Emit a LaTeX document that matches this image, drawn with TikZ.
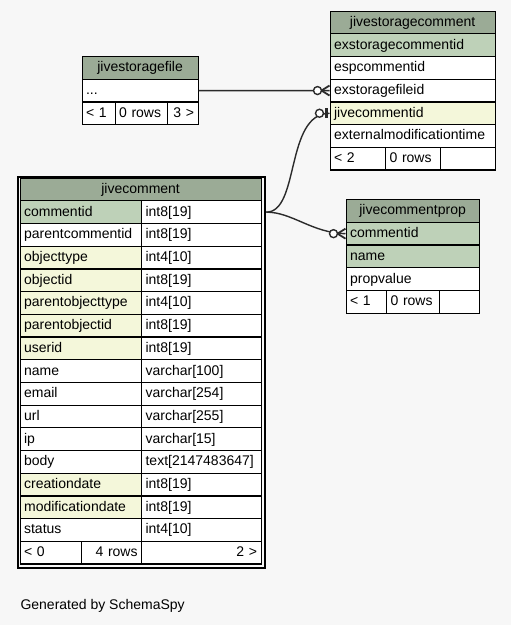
\documentclass[tikz,border=0pt]{standalone}
\usepackage{fontspec}
\setmainfont{Liberation Sans}
\usepackage{tikz}
\usetikzlibrary{calc}
\usepackage{xcolor}
\definecolor{bgcol}{HTML}{F7F7F7}
\definecolor{headcol}{HTML}{9BAB96}
\definecolor{keycol}{HTML}{BED1B8}
\definecolor{idxcol}{HTML}{F4F7DA}
\definecolor{linkcol}{HTML}{2B2B2B}
\tikzset{
  cell/.style={draw, line width=1.2pt, anchor=north west, minimum height=22.7pt,
    inner xsep=4pt, inner ysep=0pt, text height=10.5pt, text depth=2.5pt,
    text width=#1, align=left, fill=white, font=\fontsize{14}{16}\selectfont},
  head/.style={cell=#1, align=center, fill=headcol},
  link/.style={linkcol, line width=1.4pt},
}

\begin{document}
\begin{tikzpicture}[x=1pt, y=-1pt]
  \fill[bgcol] (0,0) rectangle (511,625);
  \useasboundingbox (0,0) rectangle (511,625);

  % jivestoragecomment
  \node[head=157pt] (sc) at (329.5,10.5) {jivestoragecomment};
  \foreach \fld/\clr [count=\i] in {exstoragecommentid/keycol, espcommentid/white,
      exstoragefileid/white, jivecommentid/idxcol, externalmodificationtime/white}
    \node[cell=157pt, fill=\clr] (sc-\i) at (329.5,{10.5+\i*22.7}) {\fld};
  \node[cell=47.5pt] (sc-f1) at (329.5,146.7) {< 2};
  \node[cell=47pt] (sc-f2) at (385,146.7) {0 rows};
  \node[cell=46.5pt] (sc-f3) at (440,146.7) {};

  % jivestoragefile
  \node[head=108pt] (sf) at (81.5,56) {jivestoragefile};
  \node[cell=108pt] (sf-dots) at (81.5,78.7) {...};
  \node[cell=25pt] (sf-f1) at (81.5,101.4) {< 1};
  \node[cell=44pt] (sf-f2) at (114.5,101.4) {0 rows};
  \node[cell=23pt, align=right] (sf-f3) at (166.5,101.4) {3 >};

  % jivecomment
  \node[draw, line width=2.8pt, anchor=north west, inner sep=0pt,
    minimum width=247pt, minimum height=391pt] (jc) at (16.5,175.5) {};
  \node[head=233pt] (jc-head) at (19.5,177.5) {jivecomment};
  \foreach \fld/\typ/\clr [count=\i] in {commentid/{int8[19]}/keycol,
      parentcommentid/{int8[19]}/white, objecttype/{int4[10]}/idxcol,
      objectid/{int8[19]}/idxcol, parentobjecttype/{int4[10]}/idxcol,
      parentobjectid/{int8[19]}/idxcol, userid/{int8[19]}/idxcol,
      name/{varchar[100]}/white, email/{varchar[254]}/white,
      url/{varchar[255]}/white, ip/{varchar[15]}/white,
      body/{text[2147483647]}/white, creationdate/{int8[19]}/idxcol,
      modificationdate/{int8[19]}/idxcol, status/{int4[10]}/white} {
    \node[cell=113.5pt, fill=\clr] (jc-\i-name) at (19.5,{177.5+\i*22.7}) {\fld};
    \node[cell=111.5pt] (jc-\i-type) at (141,{177.5+\i*22.7}) {\typ};
  }
  \node[cell=53.5pt] (jc-f1) at (19.5,540.7) {< 0};
  \node[cell=52pt, align=right] (jc-f2) at (81,540.7) {4 rows};
  \node[cell=111.5pt, align=right] (jc-f3) at (141,540.7) {2 >};

  % jivecommentprop
  \node[head=125pt] (cp) at (345.5,199) {jivecommentprop};
  \node[cell=125pt, fill=keycol] (cp-1) at (345.5,221.7) {commentid};
  \node[cell=125pt, fill=keycol] (cp-2) at (345.5,244.4) {name};
  \node[cell=125pt] (cp-3) at (345.5,267.1) {propvalue};
  \node[cell=32.5pt] (cp-f1) at (345.5,289.8) {< 1};
  \node[cell=45pt] (cp-f2) at (386,289.8) {0 rows};
  \node[cell=31.5pt] (cp-f3) at (439,289.8) {};

  % links
  \coordinate (jc-out) at (jc.east |- jc-1-type.east);
  \draw[link] (sf-dots.east) -- (sc-3.west);
  \draw[link] (jc-out) .. controls (300,212) and (285,113.6) .. (sc-4.west);
  \draw[link] (jc-out) .. controls (292,212) and (312,233) .. (cp-1.west);

  % zero or many
  \draw[link, line width=1.8pt] ($(sc-3.west)+(-8,0)$) -- ($(sc-3.west)+(0,-5)$)
    ($(sc-3.west)+(-8,0)$) -- ($(sc-3.west)+(0,5)$);
  \draw[link, fill=white] ($(sc-3.west)+(-12,0)$) circle (4pt);
  \draw[link, line width=1.8pt] ($(cp-1.west)+(-8,0)$) -- ($(cp-1.west)+(0,-5)$)
    ($(cp-1.west)+(-8,0)$) -- ($(cp-1.west)+(0,5)$);
  \draw[link, fill=white] ($(cp-1.west)+(-12,0)$) circle (4pt);
  % zero or one
  \fill[linkcol] ($(sc-4.west)+(-4.5,-5)$) rectangle ($(sc-4.west)+(-2,5)$);
  \draw[link, fill=white] ($(sc-4.west)+(-10,0)$) circle (4pt);

  \node[anchor=base west, font=\fontsize{14}{16}\selectfont] (credit) at (17,609) {Generated by SchemaSpy};
\end{tikzpicture}
\end{document}
